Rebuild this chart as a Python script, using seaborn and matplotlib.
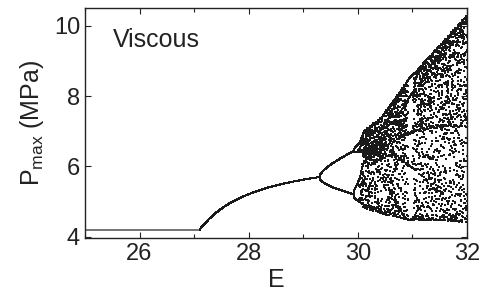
import numpy as np
import pandas as pd
import matplotlib
matplotlib.use("Agg")
import matplotlib.pyplot as plt
import seaborn as sns

# anchors: control value E -> map parameter r,
# and the offset/scale that put the map state onto P_max (MPa)
E_anchor = [25.0, 27.1, 29.3, 29.92, 30.0, 30.04, 30.1, 30.45, 30.94, 32.0]
r_anchor = [0.5, 1.0, 3.0, 3.449, 3.544, 3.57, 3.68, 3.7016, 3.7392, 3.82]
c_anchor = [4.2, 4.2, 4.2, 3.89, 3.92, 3.94, 3.95, 3.59, 3.18, 3.18]
s_anchor = [2.25, 2.25, 2.25, 3.0, 3.05, 3.09, 3.3, 4.15, 5.69, 7.46]

x_ticks = [26, 28, 30, 32]
y_ticks = [4, 6, 8, 10]

# bifurcation sweep (deterministic iteration of the map)
E = np.linspace(25, 32, 1500)
r = np.interp(E, E_anchor, r_anchor)
c = np.interp(E, E_anchor, c_anchor)
s = np.interp(E, E_anchor, s_anchor)

x = np.full_like(E, 0.5)
for _ in range(1500):
    x = r * x * (1 - x)
rows = []
for it in range(16):
    x = r * x * (1 - x)
    rows.append(pd.DataFrame({"E": E, "P": c + s * x, "it": it}))
df = pd.concat(rows, ignore_index=True)

flat = df[df.E < 27.1]
periodic = df[(df.E >= 27.1) & (df.E < 30.04)]
chaos = df[(df.E >= 30.04) & (df.it < 8)]

sns.set_style("ticks")
plt.rcParams['font.family'] = ['Liberation Sans', 'DejaVu Sans']
plt.rcParams['mathtext.fontset'] = 'custom'
plt.rcParams['mathtext.rm'] = 'Liberation Sans'
plt.rcParams['mathtext.it'] = 'Liberation Sans'

fig = plt.figure(figsize=(4.87, 3.0), dpi=100)
ax = fig.add_axes([0.1745, 0.207, 0.7845, 0.766])

sns.scatterplot(data=flat, x="E", y="P", ax=ax, s=0.6, color="#777777",
                linewidth=0, marker="s", antialiased=False, legend=False)
sns.scatterplot(data=periodic, x="E", y="P", ax=ax, s=0.7, color="#1a1a1a",
                linewidth=0, marker="s", antialiased=False, legend=False)
sns.scatterplot(data=chaos, x="E", y="P", ax=ax, s=0.6, color="#1a1a1a",
                linewidth=0, marker="s", antialiased=False, legend=False)

ax.set_xlim(25, 32)
ax.set_ylim(3.97, 10.5)
ax.set_xticks(x_ticks)
ax.set_xticks([25, 27, 29, 31], minor=True)
ax.set_yticks(y_ticks)
ax.tick_params(which="both", direction="in", top=True, right=True,
               labelsize=17, width=0.8, colors="#222222", labelcolor="#222222")
ax.tick_params(which="major", length=4)
ax.tick_params(which="minor", length=3)
for sp in ax.spines.values():
    sp.set_linewidth(1.0)
    sp.set_color("#222222")

ax.set_xlabel("E", fontsize=18, color="#222222", labelpad=2)
ax.set_ylabel(r"P$_{\mathrm{max}}$ (MPa)", fontsize=18, color="#222222", labelpad=6)
ax.text(0.073, 0.83, "Viscous", transform=ax.transAxes, fontsize=18,
        color="#222222", va="baseline", ha="left")

fig.savefig("out.png", dpi=100)
